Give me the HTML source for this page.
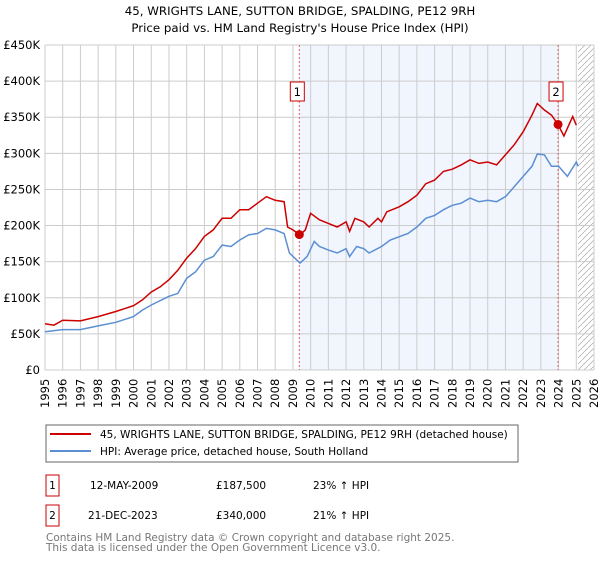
<!DOCTYPE html>
<html><head><meta charset="utf-8"><style>
body{margin:0;background:#fff;font-family:"DejaVu Sans","Liberation Sans",sans-serif;}
svg text{font-family:"DejaVu Sans","Liberation Sans",sans-serif;}
</style></head><body>
<svg id="chart" width="600" height="560" viewBox="0 0 600 560" xmlns="http://www.w3.org/2000/svg">
<text x="300" y="15" text-anchor="middle" font-size="11.8">45, WRIGHTS LANE, SUTTON BRIDGE, SPALDING, PE12 9RH</text>
<text x="300" y="32" text-anchor="middle" font-size="11.8">Price paid vs. HM Land Registry's House Price Index (HPI)</text>
<g id="plot"></g>
<rect x="46" y="425" width="472" height="37" fill="none" stroke="#666"/>
<line x1="50" y1="434" x2="91" y2="434" stroke="#cc0000" stroke-width="2"/>
<text x="100" y="438" font-size="10.5">45, WRIGHTS LANE, SUTTON BRIDGE, SPALDING, PE12 9RH (detached house)</text>
<line x1="50" y1="451" x2="91" y2="451" stroke="#5b8fd4" stroke-width="2"/>
<text x="100" y="455" font-size="10.5">HPI: Average price, detached house, South Holland</text>
<g font-size="10.5">
<rect x="46" y="475" width="13" height="21" fill="none" stroke="#cc0000"/>
<text x="52.5" y="489" text-anchor="middle">1</text>
<text x="90" y="489">12-MAY-2009</text><text x="216" y="489">£187,500</text><text x="313" y="489">23% ↑ HPI</text>
<rect x="46" y="505" width="13" height="21" fill="none" stroke="#cc0000"/>
<text x="52.5" y="519" text-anchor="middle">2</text>
<text x="88" y="519">21-DEC-2023</text><text x="216" y="519">£340,000</text><text x="313" y="519">21% ↑ HPI</text>
</g>
<text x="46" y="541" font-size="10.5" fill="#777">Contains HM Land Registry data © Crown copyright and database right 2025.</text>
<text x="46" y="551" font-size="10.5" fill="#777">This data is licensed under the Open Government Licence v3.0.</text>
</svg>
<script>
const yTicks=[0,50,100,150,200,250,300,350,400,450];
const years=[1995,1996,1997,1998,1999,2000,2001,2002,2003,2004,2005,2006,2007,2008,2009,2010,2011,2012,2013,2014,2015,2016,2017,2018,2019,2020,2021,2022,2023,2024,2025,2026];
const redX=[1995,1995.5,1996,1997,1998,1999,2000,2000.5,2001,2001.5,2002,2002.5,2003,2003.5,2004,2004.5,2005,2005.5,2006,2006.5,2007,2007.5,2008,2008.5,2008.7,2009,2009.4,2009.7,2010,2010.5,2011,2011.5,2012,2012.2,2012.5,2013,2013.3,2013.8,2014,2014.3,2015,2015.5,2016,2016.5,2017,2017.5,2018,2018.5,2019,2019.5,2020,2020.5,2021,2021.5,2022,2022.5,2022.8,2023.2,2023.6,2023.97,2024.3,2024.8,2025];
const redY=[64,62,69,68,74,81,89,97,108,115,125,138,155,168,185,194,210,210,222,222,231,240,235,233,198,194,187,194,217,208,203,198,205,192,210,205,198,210,205,219,226,233,242,258,263,275,278,284,291,286,288,284,298,312,330,353,369,360,353,340,324,351,339];
const blueX=[1995,1996,1997,1998,1999,2000,2000.5,2001,2002,2002.5,2003,2003.5,2004,2004.5,2005,2005.5,2006,2006.5,2007,2007.5,2008,2008.5,2008.8,2009.4,2009.8,2010.2,2010.5,2011,2011.5,2012,2012.2,2012.6,2013,2013.3,2014,2014.5,2015.5,2016,2016.5,2017,2017.5,2018,2018.5,2019,2019.5,2020,2020.5,2021,2021.5,2022,2022.5,2022.8,2023.2,2023.6,2024,2024.5,2025,2025.1];
const blueY=[53,56,56,61,66,74,83,90,102,106,127,136,152,157,173,171,180,187,189,196,194,189,162,148,157,178,171,166,162,168,157,171,168,162,171,180,189,198,210,214,222,228,231,238,233,235,233,240,254,268,282,299,298,282,282,268,288,282];
const saleX=[2009.36,2023.97];
const saleY=[187.5,340];
const saleLabels=["1","2"];
const X0=45,X1=594,Y0=370,Y1=45;
const xs=v=>X0+(v-1995)/(2026-1995)*(X1-X0);
const ys=v=>Y0-v/450*(Y0-Y1);
const NS="http://www.w3.org/2000/svg";
const g=document.getElementById('plot');
function mk(t,a,p){const e=document.createElementNS(NS,t);for(const k in a)e.setAttribute(k,a[k]);(p||g).appendChild(e);return e;}
let sh=mk('rect',{x:xs(saleX[0]),y:Y1,width:xs(saleX[1])-xs(saleX[0]),height:Y0-Y1,fill:'#eef3fc',opacity:0.8});


const defs=mk('defs',{});
const pat=mk('pattern',{id:'hatch',width:6,height:6,patternUnits:'userSpaceOnUse'},defs);
mk('path',{d:'M0,6 L6,0',stroke:'#aaa','stroke-width':0.7},pat);
let ht=mk('rect',{x:xs(2025.1),y:Y1,width:X1-xs(2025.1),height:Y0-Y1,fill:'url(#hatch)'});


years.forEach(y=>{
  let l=mk('line',{x1:xs(y),x2:xs(y),y1:Y1,y2:Y0,stroke:'#ccc','stroke-width':1});
  
  
  const tx=xs(y)+4,ty=408;
  let t=mk('text',{x:tx,y:ty,'font-size':11.5,transform:`rotate(-90 ${tx} ${ty})`});
  t.textContent=y;
  
  
});
yTicks.forEach(v=>{
  let l=mk('line',{x1:X0,x2:X1,y1:ys(v),y2:ys(v),stroke:'#ccc','stroke-width':1});
  
  
  let t=mk('text',{x:40,y:ys(v)+4,'font-size':11.5,'text-anchor':'end'});
  t.textContent=v===0?'£0':'£'+v+'K';
  
  
});
saleX.forEach((s,i)=>{
  let l=mk('line',{x1:xs(s),x2:xs(s),y1:Y1,y2:Y0,stroke:'#e06060','stroke-width':1,'stroke-dasharray':'2,2'});
  
  
});
function path(X,Y,c,name){
  let p=mk('path',{d:X.map((x,i)=>(i?'L':'M')+xs(x).toFixed(1)+','+ys(Y[i]).toFixed(1)).join(''),fill:'none',stroke:c,'stroke-width':1.5});
  
  
}
path(blueX,blueY,'#5b8fd4','hpi-line');
path(redX,redY,'#cc0000','property-line');
saleX.forEach((s,i)=>{
  let c=mk('circle',{cx:xs(s),cy:ys(saleY[i]),r:4.5,fill:'#cc0000'});
  
  
  let b=mk('rect',{x:xs(s)-9,y:82,width:14,height:19,fill:'#fff',stroke:'#cc0000'});
  
  
  let t=mk('text',{x:xs(s)-2,y:96,'font-size':11.5,'text-anchor':'middle'});
  t.textContent=saleLabels[i];
  
  
});
</script>
</body></html>
